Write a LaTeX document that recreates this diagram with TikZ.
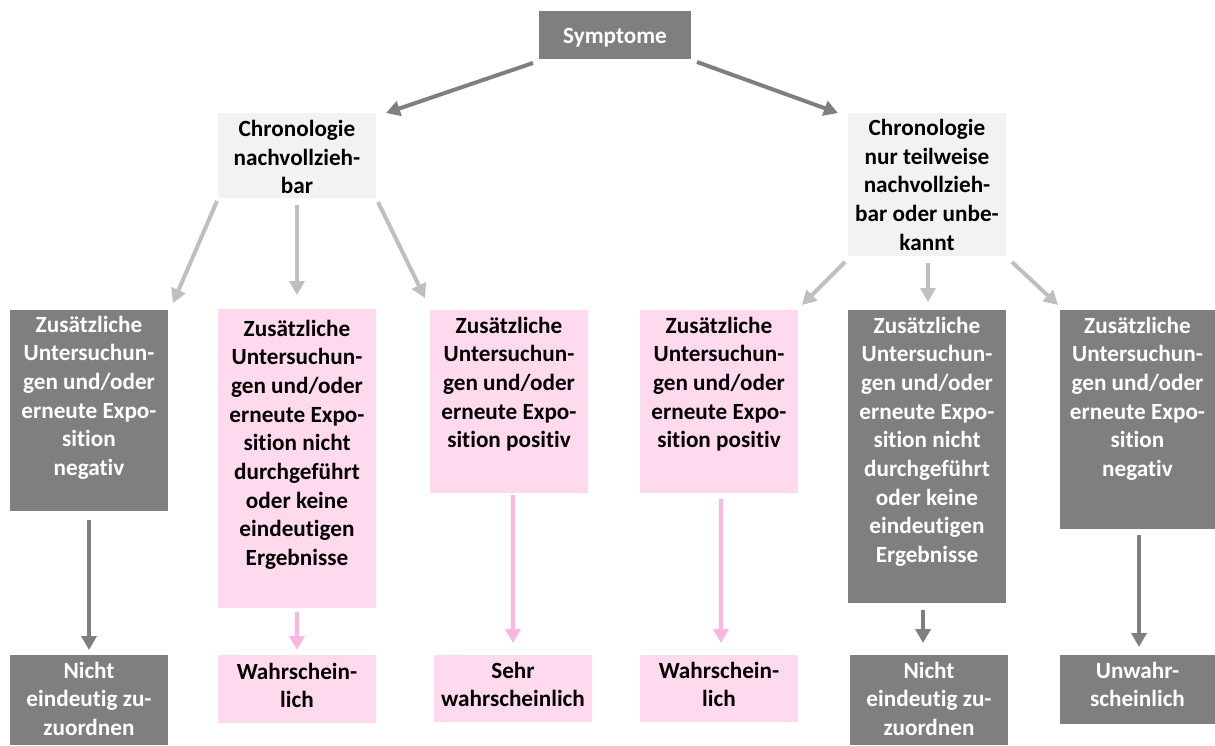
\documentclass[tikz,border=0pt]{standalone}
\usepackage{fontspec}
\setmainfont{Carlito}[Ligatures=NoCommon,RawFeature=-liga]
\usetikzlibrary{arrows.meta,calc}
\definecolor{dgray}{HTML}{7F7F7F}
\definecolor{lgray}{HTML}{BFBFBF}
\definecolor{boxlight}{HTML}{F2F2F2}
\definecolor{pinkbox}{HTML}{FFD9EE}
\definecolor{pinkarr}{HTML}{FFB5DF}
\newcommand\cellbox[4]{\parbox[t][#2][t]{#1}{\centering\rule{0pt}{#3}#4}}
\begin{document}
\begin{tikzpicture}[x=1pt,y=-1pt,
  every node/.style={inner sep=0pt,outer sep=0pt,anchor=north west,font=\fontsize{23.2}{28.7}\selectfont\bfseries},
  graycell/.style={fill=dgray,text=white},
  pinkcell/.style={fill=pinkbox,text=black},
  lightcell/.style={fill=boxlight,text=black},
  tipstyle/.style={-{Triangle[width=15pt,length=14pt]}},
  darr/.style={draw=dgray,line width=4pt,tipstyle},
  larr/.style={draw=lgray,line width=4pt,tipstyle},
  parr/.style={draw=pinkarr,line width=4pt,tipstyle}]
\useasboundingbox (0,0) rectangle (1215,745);
% top
\node[graycell] (s) at (539,11) {\cellbox{152pt}{48pt}{32pt}{Symptome}};
\node[lightcell] (cl) at (218,113) {\cellbox{158pt}{85pt}{23.5pt}{Chronologie\\nachvollzieh-\\bar}};
\node[lightcell] (cr) at (848,113) {\cellbox{158pt}{143pt}{22.5pt}{Chronologie\\nur teilweise\\nachvollzieh-\\bar oder unbe-\\kannt}};
% middle row
\node[graycell] (b1) at (10,310) {\cellbox{158pt}{201pt}{22pt}{Zusätzliche\\Untersuchun-\\gen und/oder\\erneute Expo-\\sition\\negativ}};
\node[pinkcell] (b2) at (218,309) {\cellbox{158pt}{299pt}{27pt}{Zusätzliche\\Untersuchun-\\gen und/oder\\erneute Expo-\\sition nicht\\durchgeführt\\oder keine\\eindeutigen\\Ergebnisse}};
\node[pinkcell] (b3) at (430,310) {\cellbox{158pt}{183pt}{23pt}{Zusätzliche\\Untersuchun-\\gen und/oder\\erneute Expo-\\sition positiv}};
\node[pinkcell] (b4) at (640,310) {\cellbox{158pt}{183pt}{23pt}{Zusätzliche\\Untersuchun-\\gen und/oder\\erneute Expo-\\sition positiv}};
\node[graycell] (b5) at (848,310) {\cellbox{158pt}{293pt}{23pt}{Zusätzliche\\Untersuchun-\\gen und/oder\\erneute Expo-\\sition nicht\\durchgeführt\\oder keine\\eindeutigen\\Ergebnisse}};
\node[graycell] (b6) at (1060,310) {\cellbox{155pt}{219pt}{23pt}{Zusätzliche\\Untersuchun-\\gen und/oder\\erneute Expo-\\sition\\negativ}};
% bottom row
\node[graycell] (c1) at (10,655) {\cellbox{158pt}{90pt}{23pt}{Nicht\\eindeutig zu-\\zuordnen}};
\node[pinkcell] (c2) at (218,655) {\cellbox{158pt}{68pt}{24pt}{Wahrschein-\\lich}};
\node[pinkcell] (c3) at (434,655) {\cellbox{158pt}{67pt}{23pt}{Sehr\\wahrscheinlich}};
\node[pinkcell] (c4) at (640,655) {\cellbox{158pt}{67pt}{23pt}{Wahrschein-\\lich}};
\node[graycell] (c5) at (850,655) {\cellbox{158pt}{90pt}{23pt}{Nicht\\eindeutig zu-\\zuordnen}};
\node[graycell] (c6) at (1060,655) {\cellbox{155pt}{69pt}{23pt}{Unwahr-\\scheinlich}};
% arrows
\draw[darr] ($(s.south west)+(-6,4)$) -- ($(cl.north east)+(10,0)$);
\draw[darr] ($(s.south east)+(6,3)$) -- ($(cr.north west)+(-10,0)$);
\draw[larr] ($(cl.south west)+(-1,3)$) -- ($(b1.north east)+(5,-7)$);
\draw[larr] ($(cl.south)+(0,7)$) -- ($(b2.north)+(0,-14)$);
\draw[larr] ($(cl.south east)+(2,4)$) -- ($(b3.north west)+(-5,-12)$);
\draw[larr] ($(cr.south west)+(-3,6)$) -- ($(b4.north east)+(4,-5)$);
\draw[larr] ($(cr.south)+(1,7)$) -- ($(b5.north)+(1,-8)$);
\draw[larr] ($(cr.south east)+(6,6)$) -- ($(b6.north west)+(-2,-5)$);
\draw[darr] ($(b1.south)+(0,9)$) -- ($(c1.north)+(0,-5)$);
\draw[parr] ($(b2.south)+(0,4)$) -- ($(c2.north)+(0,-5)$);
\draw[parr] ($(b3.south)+(4,2)$) -- ($(c3.north)+(0,-12)$);
\draw[parr] ($(b4.south)+(2,6)$) -- ($(c4.north)+(2,-12)$);
\draw[darr] ($(b5.south)+(-4,7)$) -- ($(c5.north)+(-6,-12)$);
\draw[darr] ($(b6.south)+(1.5,6)$) -- ($(c6.north)+(1.5,-8)$);
\end{tikzpicture}
\end{document}
